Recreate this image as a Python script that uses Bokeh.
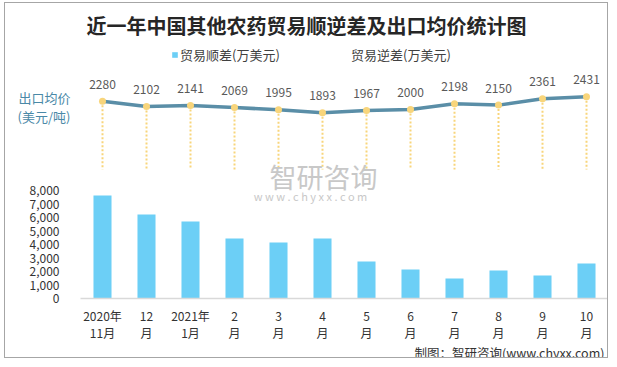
from bokeh.plotting import figure
from bokeh.models import (Range1d, FixedTicker, NumeralTickFormatter, Label,
                          Legend, LegendItem, LinearAxis, Title)
from bokeh.core.properties import value
from bokeh.embed import file_html
from bokeh.resources import INLINE

# ---- data ----
month_labels = ["2020年\n11月", "12\n月", "2021年\n1月", "2\n月", "3\n月", "4\n月",
                "5\n月", "6\n月", "7\n月", "8\n月", "9\n月", "10\n月"]
trade_surplus = [7630, 6220, 5700, 4440, 4150, 4440, 2740, 2150, 1480, 2070, 1700, 2590]
export_price = [2280, 2102, 2141, 2069, 1995, 1893, 1967, 2000, 2198, 2150, 2361, 2431]
y_ticks = [0, 1000, 2000, 3000, 4000, 5000, 6000, 7000, 8000]

title_text = "近一年中国其他农药贸易顺逆差及出口均价统计图"
legend_labels = ["贸易顺差(万美元)", "贸易逆差(万美元)"]
price_caption = "出口均价\n(美元/吨)"
source_text = "制图：智研咨询(www.chyxx.com)"

FONT = "Noto Sans CJK SC"
BAR_C = "#6CCFF6"
LINE_C = "#5A8EA7"
DOT_C = "#F8D57B"

idx = list(range(len(month_labels)))

p = figure(width=604, height=356, output_backend="svg", toolbar_location=None,
           title_location=None,
           x_range=Range1d(-0.5, 11.5), y_range=Range1d(0, 21852),
           min_border_left=75, min_border_right=1, min_border_top=0,
           min_border_bottom=61,
           styles={"border": "1px solid #A6A6A6", "margin-left": "4px", "margin-top": "2px"})
p.extra_y_ranges = {"price": Range1d(-4309, 5544)}
p.grid.visible = False
p.outline_line_color = None
p.background_fill_color = "white"
p.border_fill_color = "white"

# x axis
xa = p.xaxis[0]
xa.ticker = FixedTicker(ticks=idx)
xa.major_label_overrides = {i: m for i, m in zip(idx, month_labels)}
xa.major_tick_line_color = None
xa.minor_tick_line_color = None
xa.axis_line_color = "#D9D9D9"
xa.axis_line_width = 1.5
xa.major_label_standoff = 2
xa.major_label_text_font = FONT
xa.major_label_text_font_size = "12px"
xa.major_label_text_color = "#333333"
xa.major_label_text_line_height = 1.05

# y axis (bars)
ya = p.yaxis[0]
ya.ticker = FixedTicker(ticks=y_ticks)
ya.formatter = NumeralTickFormatter(format="0,0")
ya.axis_line_color = None
ya.major_tick_line_color = None
ya.minor_tick_line_color = None
ya.major_label_standoff = 15
ya.major_label_text_font = FONT
ya.major_label_text_font_size = "12px"
ya.major_label_text_color = "#333333"

# price axis: only its caption is shown
caption_at = 2071
pa = LinearAxis(y_range_name="price", ticker=FixedTicker(ticks=[caption_at]),
                major_label_overrides={caption_at: price_caption},
                axis_line_color=None, major_tick_line_color=None,
                minor_tick_line_color=None, major_label_standoff=-50,
                major_label_text_font=FONT, major_label_text_font_size="13px",
                major_label_text_color="#4A89A7", major_label_text_line_height=1.0)
p.add_layout(pa, "left")

# source note
p.add_layout(Title(text=source_text, align="right", offset=4, standoff=-6,
                   vertical_align="middle",
                   text_font=FONT, text_font_size="12.5px", text_font_style="normal",
                   text_color="#333333"), "below")


def screen_label(x, y, text, size, color, bold=False):
    return Label(x=x, y=y, x_units="screen", y_units="screen", text=text,
                 text_align="center", text_baseline="middle", text_font=FONT,
                 text_font_size=size, text_color=color,
                 text_font_style="bold" if bold else "normal")


# watermark
p.add_layout(screen_label(243, 122, "智研咨询", "27px", "#C8C8C8"))
p.add_layout(screen_label(230, 103, "w w w . c h y x x . c o m", "11px", "#C8C8C8"))

# bars
bars = p.vbar(x=idx, top=trade_surplus, width=0.41, fill_color=BAR_C, line_color=None)

# drop lines, line, points, labels
p.segment(x0=idx, y0=export_price, x1=idx, y1=0, y_range_name="price",
          line_color=DOT_C, line_width=2, line_dash="2 2")
p.line(idx, export_price, y_range_name="price", line_color=LINE_C, line_width=3.5)
p.scatter(idx, export_price, y_range_name="price", size=7, fill_color=DOT_C, line_color=None)
p.text(idx, export_price, text=[str(v) for v in export_price], y_range_name="price",
       y_offset=-17, text_align="center", text_baseline="middle",
       text_font=value(FONT), text_font_size="12px", text_color="#595959")

# legend (dummy renderer for second item)
dummy = p.vbar(x=[], top=[], width=0.4, fill_color=LINE_C, line_color=None)
for lab, rend, loc in [(legend_labels[0], bars, (91, 234)), (legend_labels[1], dummy, (262, 234))]:
    lg = Legend(items=[LegendItem(label=value(lab), renderers=[rend])], location=loc,
                orientation="horizontal", padding=0, margin=0, spacing=0,
                border_line_color=None, background_fill_alpha=0,
                glyph_width=7, glyph_height=7, label_height=7, label_standoff=2,
                label_text_font=FONT, label_text_font_size="13px",
                label_text_color="#404040", label_text_baseline="middle")
    p.add_layout(lg)

# title
p.add_layout(screen_label(226, 273, title_text, "20px", "#262626", bold=True))

open("out.html", "w").write(file_html(p, INLINE))
